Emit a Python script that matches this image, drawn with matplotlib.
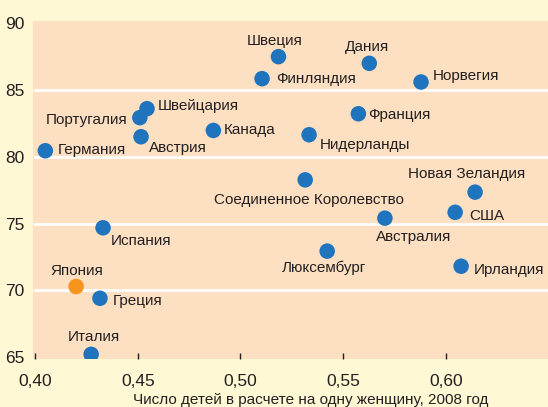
import numpy as np
import matplotlib.pyplot as plt

plt.rcParams['font.family'] = ['Liberation Sans', 'DejaVu Sans']

# Data
countries = ['Германия', 'Португалия', 'Швейцария', 'Австрия', 'Канада',
             'Швеция', 'Финляндия', 'Дания', 'Норвегия', 'Франция',
             'Нидерланды', 'Соединенное Королевство', 'Новая Зеландия', 'США',
             'Австралия', 'Ирландия', 'Люксембург', 'Испания', 'Япония',
             'Греция', 'Италия']
children = [0.405, 0.451, 0.4545, 0.4516, 0.4868,
            0.5185, 0.5105, 0.5627, 0.5879, 0.5574,
            0.5334, 0.5315, 0.6142, 0.6045,
            0.5703, 0.6074, 0.5422, 0.4331, 0.4200,
            0.4316, 0.4273]
score = [80.45, 82.93, 83.6, 81.5, 81.97,
         87.5, 85.85, 87.0, 85.6, 83.22,
         81.65, 78.27, 77.35, 75.84,
         75.4, 71.8, 72.93, 74.68, 70.28,
         69.4, 65.2]
highlight = 'Япония'

# label placement (pixel offsets, horizontal alignment)
label_pos = {
    'Германия': (12, 1, 'left'), 'Португалия': (-12, -2, 'right'),
    'Швейцария': (11, 3, 'left'), 'Австрия': (8, -11, 'left'),
    'Канада': (10, 0, 'left'), 'Швеция': (-4, 16, 'center'),
    'Финляндия': (14, 0, 'left'), 'Дания': (-2, 16, 'center'),
    'Норвегия': (12, 6, 'left'), 'Франция': (10, -1, 'left'),
    'Нидерланды': (11, -10, 'left'), 'Соединенное Королевство': (4, -20, 'center'),
    'Новая Зеландия': (-8, 18, 'center'), 'США': (14, -4, 'left'),
    'Австралия': (29, -19, 'center'), 'Ирландия': (13, -4, 'left'),
    'Люксембург': (-3, -17, 'center'), 'Испания': (8, -13, 'left'),
    'Япония': (1, 16, 'center'), 'Греция': (13, -3, 'left'),
    'Италия': (3, 17, 'center'),
}

xticks = [0.40, 0.45, 0.50, 0.55, 0.60]
yticks = [65, 70, 75, 80, 85, 90]
xlabel = 'Число детей в расчете на одну женщину, 2008 год'

fig = plt.figure(figsize=(5.48, 4.07), dpi=100, facecolor='#fff8d5')
ax = fig.add_axes([33 / 548, 1 - 359 / 407, 515 / 548, 338 / 407])
ax.set_facecolor('#fde0c2')
for s in ax.spines.values():
    s.set_visible(False)

ax.set_xlim(0.3990, 0.6497)
ax.set_ylim(64.85, 90.17)

for y in [70, 75, 80, 85]:
    ax.axhline(y, xmin=0.004, xmax=1, color='white', lw=2, zorder=1)

colors = ['#f7941d' if c == highlight else '#1f74bd' for c in countries]
ax.scatter(children, score, s=125, c=colors, zorder=3, linewidths=0)

for name, x, y in zip(countries, children, score):
    dx, dy, ha = label_pos[name]
    ax.annotate(name, (x, y), xytext=(dx, dy), textcoords='offset pixels',
                ha=ha, va='center', fontsize=11, color='#231f20', zorder=4)

ax.set_xticks(xticks)
ax.set_xticklabels([f'{t:.2f}'.replace('.', ',') for t in xticks])
ax.tick_params(axis='x', direction='in', length=4, width=1, color='#231f20',
               pad=11, labelsize=12.5, labelcolor='#231f20')
ax.set_yticks(yticks)
ax.tick_params(axis='y', length=0, pad=6, labelsize=12.5, labelcolor='#231f20')

fig.text(311 / 548, 1 - 400 / 407, xlabel, ha='center', va='center',
         fontsize=11, color='#231f20')

fig.savefig('out.png', dpi=100, facecolor=fig.get_facecolor())
